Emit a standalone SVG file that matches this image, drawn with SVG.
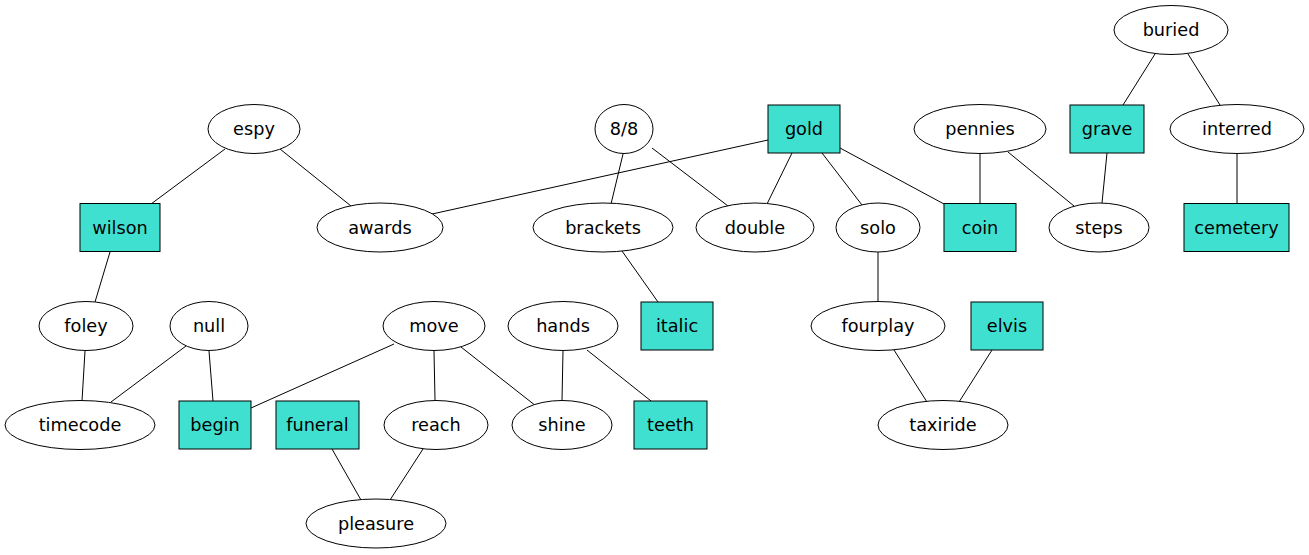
<svg xmlns="http://www.w3.org/2000/svg" width="1309" height="555" viewBox="0 0 1309 555">
<style>
.bg{fill:#ffffff}
.e ellipse{fill:#ffffff;stroke:#000000;stroke-width:1}
.b rect{fill:#40e0d0;stroke:#000000;stroke-width:1}
text{font-family:"DejaVu Sans",sans-serif;font-size:17.7px;fill:#000000;text-anchor:middle}
#edges line{stroke:#000000;stroke-width:1}
</style>
<rect class="bg" x="0" y="0" width="1309" height="555"/>
<g id="edges">
<line x1="1155" y1="54" x2="1123" y2="105"/>
<line x1="1188" y1="54" x2="1220" y2="105"/>
<line x1="225" y1="149" x2="151" y2="204"/>
<line x1="280" y1="149" x2="351" y2="206"/>
<line x1="768" y1="140" x2="432" y2="214"/>
<line x1="623" y1="154" x2="611" y2="204"/>
<line x1="652" y1="148" x2="728" y2="206"/>
<line x1="792" y1="153" x2="767" y2="204"/>
<line x1="822" y1="153" x2="862" y2="205"/>
<line x1="840" y1="148" x2="944" y2="204"/>
<line x1="980" y1="154" x2="980" y2="204"/>
<line x1="1008" y1="152" x2="1074" y2="206"/>
<line x1="1107" y1="153" x2="1102" y2="203"/>
<line x1="1237" y1="154" x2="1237" y2="204"/>
<line x1="110" y1="252" x2="95" y2="302"/>
<line x1="622" y1="251" x2="658" y2="302"/>
<line x1="878" y1="252" x2="878" y2="302"/>
<line x1="85" y1="351" x2="82" y2="401"/>
<line x1="186" y1="346" x2="111" y2="402"/>
<line x1="209" y1="351" x2="213" y2="401"/>
<line x1="394" y1="344" x2="251" y2="408"/>
<line x1="434" y1="351" x2="435" y2="400"/>
<line x1="461" y1="347" x2="536" y2="406"/>
<line x1="563" y1="351" x2="562" y2="400"/>
<line x1="587" y1="350" x2="651" y2="401"/>
<line x1="894" y1="350" x2="927" y2="402"/>
<line x1="992" y1="350" x2="959" y2="402"/>
<line x1="332" y1="449" x2="361" y2="500"/>
<line x1="423" y1="449" x2="390" y2="500"/>
</g>
<g id="buried" class="e"><ellipse cx="1171" cy="30" rx="57" ry="24.5"/><text x="1171" y="36">buried</text></g>
<g id="espy" class="e"><ellipse cx="254" cy="129" rx="46" ry="24.5"/><text x="254" y="135">espy</text></g>
<g id="n8_8" class="e"><ellipse cx="624" cy="129" rx="29" ry="24.5"/><text x="624" y="135">8/8</text></g>
<g id="gold" class="b"><rect x="768" y="105" width="72" height="48"/><text x="804" y="135">gold</text></g>
<g id="pennies" class="e"><ellipse cx="980" cy="129" rx="66" ry="24.5"/><text x="980" y="135">pennies</text></g>
<g id="grave" class="b"><rect x="1070" y="105" width="74" height="48"/><text x="1107" y="135">grave</text></g>
<g id="interred" class="e"><ellipse cx="1237" cy="129" rx="67" ry="24.5"/><text x="1237" y="135">interred</text></g>
<g id="wilson" class="b"><rect x="80" y="203.5" width="80" height="48"/><text x="120" y="233.5">wilson</text></g>
<g id="awards" class="e"><ellipse cx="380" cy="227.5" rx="63" ry="24.5"/><text x="380" y="233.5">awards</text></g>
<g id="brackets" class="e"><ellipse cx="603" cy="227.5" rx="70" ry="24.5"/><text x="603" y="233.5">brackets</text></g>
<g id="double" class="e"><ellipse cx="755" cy="227.5" rx="59" ry="24.5"/><text x="755" y="233.5">double</text></g>
<g id="solo" class="e"><ellipse cx="878" cy="227.5" rx="42" ry="24.5"/><text x="878" y="233.5">solo</text></g>
<g id="coin" class="b"><rect x="944" y="203.5" width="72" height="48"/><text x="980" y="233.5">coin</text></g>
<g id="steps" class="e"><ellipse cx="1099" cy="227.5" rx="50" ry="24.5"/><text x="1099" y="233.5">steps</text></g>
<g id="cemetery" class="b"><rect x="1184" y="203.5" width="105" height="48"/><text x="1236.5" y="233.5">cemetery</text></g>
<g id="foley" class="e"><ellipse cx="86" cy="326" rx="47" ry="24.5"/><text x="86" y="332">foley</text></g>
<g id="null" class="e"><ellipse cx="209" cy="326" rx="39" ry="24.5"/><text x="209" y="332">null</text></g>
<g id="move" class="e"><ellipse cx="434" cy="326" rx="51" ry="24.5"/><text x="434" y="332">move</text></g>
<g id="hands" class="e"><ellipse cx="563" cy="326" rx="55" ry="24.5"/><text x="563" y="332">hands</text></g>
<g id="italic" class="b"><rect x="641" y="302" width="72" height="48"/><text x="677" y="332">italic</text></g>
<g id="fourplay" class="e"><ellipse cx="878" cy="326" rx="67" ry="24.5"/><text x="878" y="332">fourplay</text></g>
<g id="elvis" class="b"><rect x="971" y="302" width="72" height="48"/><text x="1007" y="332">elvis</text></g>
<g id="timecode" class="e"><ellipse cx="80" cy="425" rx="75" ry="24.5"/><text x="80" y="431">timecode</text></g>
<g id="begin" class="b"><rect x="179" y="401" width="72" height="48"/><text x="215" y="431">begin</text></g>
<g id="funeral" class="b"><rect x="276" y="401" width="83" height="48"/><text x="317.5" y="431">funeral</text></g>
<g id="reach" class="e"><ellipse cx="436" cy="425" rx="52" ry="24.5"/><text x="436" y="431">reach</text></g>
<g id="shine" class="e"><ellipse cx="562" cy="425" rx="50" ry="24.5"/><text x="562" y="431">shine</text></g>
<g id="teeth" class="b"><rect x="634" y="401" width="73" height="48"/><text x="670.5" y="431">teeth</text></g>
<g id="taxiride" class="e"><ellipse cx="943" cy="425" rx="65" ry="24.5"/><text x="943" y="431">taxiride</text></g>
<g id="pleasure" class="e"><ellipse cx="376" cy="523.5" rx="70" ry="24.5"/><text x="376" y="529.5">pleasure</text></g>
</svg>
